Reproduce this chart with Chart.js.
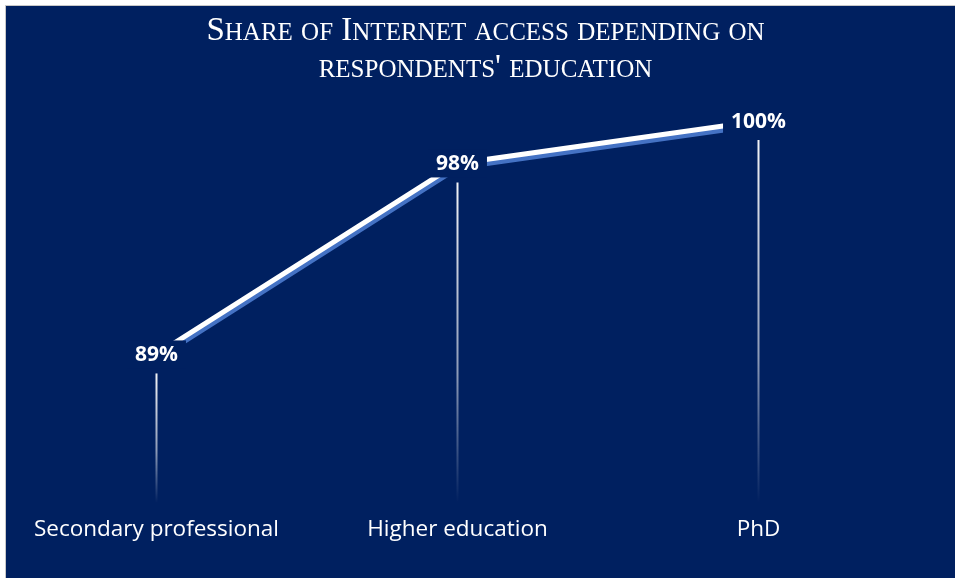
<!DOCTYPE html>
<html lang="en">
<head>
    <meta charset="UTF-8">
    <title>Internet access by education</title>
    <style>
        html, body {
            margin: 0;
            padding: 0;
            background: #ffffff;
        }
        .chart-box {
            position: absolute;
            left: 5px;
            top: 5px;
            width: 949px;
            height: 572px;
            background: #002060;
            border-left: 1px solid #c8c8c8;
            border-top: 1px solid #c8c8c8;
        }
    </style>
</head>
<body>
<div class="chart-box">
    <canvas id="accessChart" width="949" height="572"></canvas>
</div>
<script src="https://cdn.jsdelivr.net/npm/chart.js"></script>
<script>
const categories = ['Secondary professional', 'Higher education', 'PhD'];
const shareValues = [89, 98, 100];
const titleLines = ['Share of Internet access depending on', "respondents' education"];

const BG = '#002060';

// title in small caps: capitals at full size, lower case as smaller capitals
const smallCapsTitle = {
    id: 'smallCapsTitle',
    afterDraw(chart) {
        const ctx = chart.ctx;
        const size = 33, small = 25;
        const fam = '"Liberation Serif"';
        const cx = chart.width / 2 + 5;
        const baselines = [34, 71];
        ctx.save();
        ctx.fillStyle = '#ffffff';
        ctx.textBaseline = 'alphabetic';
        ctx.textAlign = 'left';
        titleLines.forEach((line, li) => {
            // split into runs of upper / lower case
            const runs = [];
            for (const ch of line) {
                const lower = ch !== ch.toUpperCase();
                const last = runs[runs.length - 1];
                if (last && last.lower === lower) last.text += ch;
                else runs.push({ lower, text: ch });
            }
            let total = 0;
            runs.forEach(r => {
                ctx.font = (r.lower ? small : size) + 'px ' + fam;
                r.text = r.text.toUpperCase();
                r.w = ctx.measureText(r.text).width;
                total += r.w;
            });
            let x = cx - total / 2;
            runs.forEach(r => {
                ctx.font = (r.lower ? small : size) + 'px ' + fam;
                ctx.fillText(r.text, x, baselines[li]);
                x += r.w;
            });
        });
        ctx.restore();
    }
};

// vertical drop lines from each point down to the axis, fading out
const dropLines = {
    id: 'dropLines',
    beforeDatasetsDraw(chart) {
        const ctx = chart.ctx;
        const bottom = chart.chartArea.bottom;
        chart.getDatasetMeta(0).data.forEach(pt => {
            const top = pt.y + 19;
            const grad = ctx.createLinearGradient(0, top, 0, bottom);
            grad.addColorStop(0, 'rgba(255,255,255,0.95)');
            grad.addColorStop(0.6, 'rgba(255,255,255,0.55)');
            grad.addColorStop(1, 'rgba(255,255,255,0)');
            ctx.save();
            ctx.strokeStyle = grad;
            ctx.lineWidth = 2;
            ctx.beginPath();
            ctx.moveTo(pt.x, top);
            ctx.lineTo(pt.x, bottom);
            ctx.stroke();
            ctx.restore();
        });
    }
};

// blue offset shadow under the white line
const lineShadow = {
    id: 'lineShadow',
    beforeDatasetDraw(chart) {
        const ctx = chart.ctx;
        ctx.save();
        ctx.shadowColor = '#4472C4';
        ctx.shadowOffsetX = 1;
        ctx.shadowOffsetY = 4;
        ctx.shadowBlur = 0;
    },
    afterDatasetDraw(chart) {
        chart.ctx.restore();
    }
};

// value labels centred on the points, on a background-coloured box
const valueLabels = {
    id: 'valueLabels',
    afterDatasetsDraw(chart) {
        const ctx = chart.ctx;
        ctx.save();
        ctx.font = 'bold 21px "Open Sans"';
        ctx.textAlign = 'center';
        ctx.textBaseline = 'middle';
        chart.getDatasetMeta(0).data.forEach((pt, i) => {
            const txt = shareValues[i] + '%';
            const w = ctx.measureText(txt).width;
            ctx.fillStyle = BG;
            ctx.fillRect(pt.x - w / 2 - 8, pt.y - 14, w + 16, 28);
            ctx.fillStyle = '#ffffff';
            ctx.fillText(txt, pt.x, pt.y + 1);
        });
        ctx.restore();
    }
};

new Chart(document.getElementById('accessChart'), {
    type: 'line',
    data: {
        labels: categories,
        datasets: [{
            label: 'Share with Internet access',
            data: shareValues,
            borderColor: '#ffffff',
            borderWidth: 5,
            borderCapStyle: 'butt',
            pointRadius: 0,
            tension: 0,
            fill: false
        }]
    },
    options: {
        responsive: false,
        animation: false,
        layout: {
            padding: { left: 0, right: 46, top: 115, bottom: 22 }
        },
        plugins: {
            legend: { display: false },
            tooltip: { enabled: false },
            title: { display: false }
        },
        scales: {
            x: {
                offset: true,
                grid: { display: false, drawTicks: false },
                border: { display: false },
                ticks: {
                    color: '#ffffff',
                    padding: 13,
                    font: { family: '"Open Sans"', size: 22.5 }
                }
            },
            y: {
                display: false,
                min: 82,
                max: 100
            }
        }
    },
    plugins: [smallCapsTitle, dropLines, lineShadow, valueLabels]
});
</script>
</body>
</html>
